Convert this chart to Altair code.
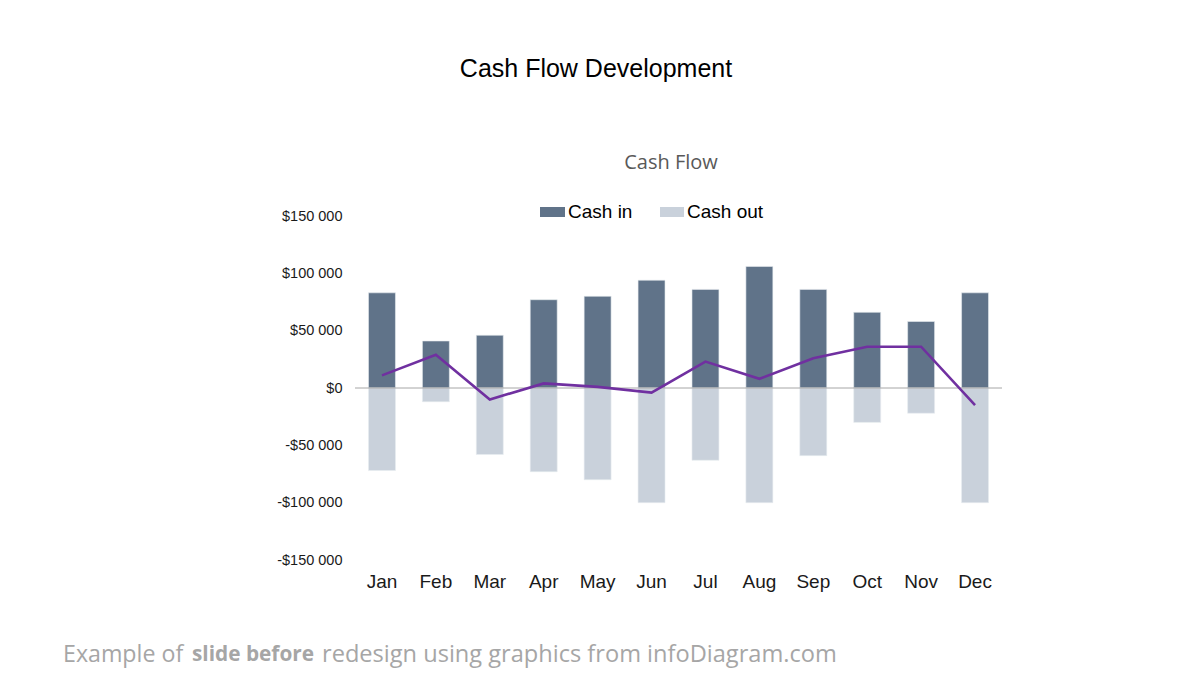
import altair as alt
import pandas as pd

months = ["Jan", "Feb", "Mar", "Apr", "May", "Jun", "Jul", "Aug", "Sep", "Oct", "Nov", "Dec"]
cash_in = [83000, 41000, 46000, 77000, 80000, 94000, 86000, 106000, 86000, 66000, 58000, 83000]
cash_out = [-72000, -12000, -58000, -73000, -80000, -100000, -63000, -100000, -59000, -30000, -22000, -100000]
net = [11000, 29000, -10000, 4000, 1000, -4000, 23000, 8000, 26000, 36000, 36000, -15000]
y_ticks = [-150000, -100000, -50000, 0, 50000, 100000, 150000]

series_names = ["Cash in", "Cash out"]
series_colors = ["#607389", "#c9d1db"]

bars = pd.DataFrame({
    "Month": months * 2,
    "Series": [series_names[0]] * 12 + [series_names[1]] * 12,
    "Value": cash_in + cash_out,
})
line_df = pd.DataFrame({"Month": months, "Net": net})

W, H = 647, 344
FONT = "Liberation Sans"

x_enc = alt.X(
    "Month:N", sort=months,
    scale=alt.Scale(paddingInner=0.5, paddingOuter=0.25),
    axis=alt.Axis(title=None, labelAngle=0, domain=False, ticks=False, labelPadding=12,
                  labelFontSize=19, labelColor="#1a1a1a", labelFont=FONT),
)
y_scale = alt.Scale(domain=[-150000, 150000], nice=False)

bar_layer = alt.Chart(bars).mark_bar(stroke="#e8ecf0", strokeWidth=0.6).encode(
    x=x_enc,
    y=alt.Y(
        "Value:Q", stack=None, scale=y_scale,
        axis=alt.Axis(
            title=None, values=y_ticks, grid=False, domain=False, ticks=False, labelPadding=13,
            labelFontSize=14.5, labelColor="#1a1a1a", labelFont=FONT,
            labelExpr="datum.value == 0 ? '$0' : (datum.value < 0 ? '-' : '') + '$' + format(abs(datum.value) / 1000, 'd') + ' 000'",
        ),
    ),
    color=alt.Color("Series:N", scale=alt.Scale(domain=series_names, range=series_colors), legend=None),
)

zero_rule = alt.Chart(pd.DataFrame({"z": [0]})).mark_rule(color="#a6a6a6", strokeWidth=1).encode(
    y=alt.Y("z:Q", scale=y_scale)
)

net_line = alt.Chart(line_df).mark_line(color="#7030a0", strokeWidth=2.6).encode(
    x=alt.X("Month:N", sort=months),
    y=alt.Y("Net:Q", scale=y_scale),
)

def txt(s, x, y, size, color="#000000", font=FONT, align="center", weight="normal"):
    return alt.Chart(pd.DataFrame({"t": [s]})).mark_text(
        fontSize=size, color=color, font=font, align=align, baseline="middle", fontWeight=weight
    ).encode(x=alt.value(x), y=alt.value(y), text="t:N")

def swatch(x0, x1, y0, y1, color):
    return alt.Chart(pd.DataFrame({"a": [0]})).mark_rect(color=color).encode(
        x=alt.value(x0), x2=alt.value(x1), y=alt.value(y0), y2=alt.value(y1)
    )

title = txt("Cash Flow Development", 241, -147, 25)
subtitle = txt("Cash Flow", 316, -53, 20, color="#595959", font="Open Sans")
leg = (
    swatch(185, 210, -9, 1, series_colors[0])
    + txt(series_names[0], 213, -4, 19, align="left")
    + swatch(305, 329, -9, 1, series_colors[1])
    + txt(series_names[1], 332, -4, 19, align="left")
)
FF = "Open Sans"
footer = (
    txt("Example of", -292, 439, 23.2, color="#a6a6a6", font=FF, align="left")
    + txt("slide before", -163, 439, 20.8, color="#a6a6a6", font=FF, align="left", weight="bold")
    + txt("redesign using graphics from infoDiagram.com", -33, 439, 23.6, color="#a6a6a6", font=FF, align="left")
)

chart = alt.layer(bar_layer, zero_rule, net_line, title, subtitle, leg, footer).properties(
    width=W, height=H,
    autosize=alt.AutoSizeParams(type="none"),
    padding={"left": 355, "top": 216, "right": 198, "bottom": 115},
    view=alt.ViewBackground(strokeWidth=0, strokeOpacity=0),
).configure_view(strokeWidth=0, strokeOpacity=0).configure(background="white")

chart.save("out.html", embed_options={"renderer": "svg", "actions": False})
